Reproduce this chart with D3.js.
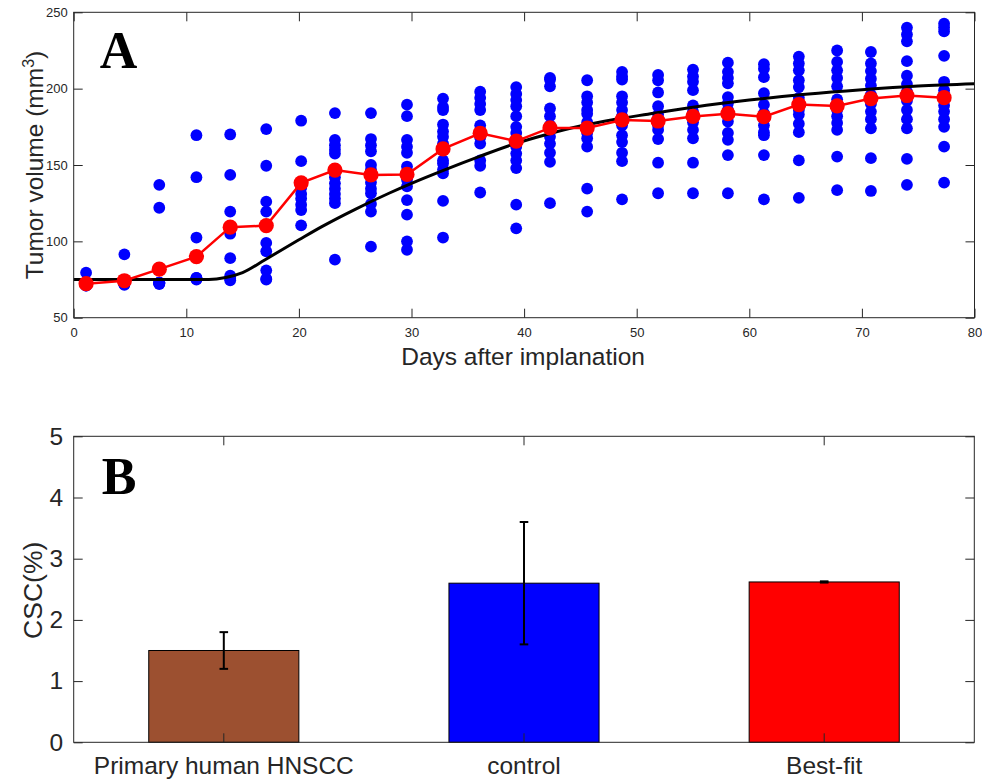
<!DOCTYPE html>
<html>
<head>
<meta charset="utf-8">
<script src="https://cdn.jsdelivr.net/npm/d3@7"></script>
<style>
  html, body { margin: 0; padding: 0; background: #fff; }
  svg { display: block; }
  text { font-family: "Liberation Sans", Arial, Helvetica, sans-serif; fill: #262626; }
  .panel-letter { font-family: "Liberation Serif", "Times New Roman", serif; font-weight: bold; fill: #000; }
</style>
</head>
<body>
<svg id="fig" width="982" height="780"></svg>
<script>
// ---- Panel A: tumour growth ----
const measureDays = [1.1, 4.5, 7.6, 10.9, 13.9, 17.1, 20.2, 23.2, 26.4, 29.6, 32.8, 36.1, 39.3,
                     42.3, 45.6, 48.7, 51.9, 55.0, 58.1, 61.3, 64.4, 67.8, 70.8, 74.0, 77.3];

// individual mice, one list per measurement day
const mouseVolumes = [
  [79.5, 73, 72.5, 72, 71.5, 71, 72.5, 71],
  [91.5, 73, 72.5, 72, 72, 71.5, 73, 72],
  [137, 122, 73, 73, 72.5, 72.5, 72, 73],
  [169.5, 142, 102.5, 76, 75.5, 75.5, 75, 76],
  [170, 143.5, 119.5, 105, 89, 77.5, 75.5, 74.5],
  [173.5, 149.5, 126, 119.5, 99, 93.5, 81, 75.5, 75],
  [179, 152.5, 135, 131, 128, 124, 120.5, 110.5],
  [184, 166.5, 163, 160, 157.5, 146, 142, 138, 134.5, 131, 128, 125, 88],
  [184, 167, 163, 159, 150, 147, 143.5, 138.5, 134.5, 131.5, 124.5, 119.5, 96.5],
  [189.5, 182, 166.5, 162, 158, 149, 145, 140.5, 136, 127, 117.5, 100, 94.5],
  [193.5, 188, 186, 176.5, 172, 168.5, 164, 153, 151, 147, 144.5, 126.5, 102.5],
  [198, 194, 190, 186, 176, 172, 168, 164, 153, 149.5, 132],
  [201, 196.5, 192.5, 188.5, 182, 175, 171, 162, 157.5, 153, 148, 124, 108.5],
  [207, 206, 201.5, 187, 182, 176, 168.5, 164, 158, 152, 125],
  [205.5, 195, 191, 186, 183.5, 178, 171, 167.5, 162, 134.5, 119.5],
  [211, 208, 206, 195, 191, 186, 182, 176, 169.5, 165, 158, 152.5, 127.5],
  [209, 205.5, 197.5, 188.5, 183, 176, 173, 167, 151.5, 131.5],
  [212.5, 208, 204.5, 199, 189, 185, 178, 173, 167.5, 151.5, 131.5],
  [217, 211, 207, 203.5, 194.5, 190.5, 186, 178.5, 171, 166.5, 156.5, 131.5],
  [216, 213, 207.5, 197, 189.5, 184, 180, 176, 171.5, 169.5, 156.5, 127.5],
  [221, 216.5, 212, 205.5, 201, 194, 190, 186, 183, 177, 171.5, 153, 128.5],
  [225, 217.5, 212, 207, 201.5, 193, 186, 182, 177.5, 173, 155.5, 133.5],
  [224, 216.5, 211.5, 206.5, 202, 196, 190, 185, 180, 174, 154.5, 133],
  [240, 235.5, 231, 218, 208.5, 203, 198, 192, 186, 180, 174, 154, 137],
  [242.5, 240, 237.5, 221.5, 204.5, 199, 196, 189, 185, 180, 175, 162, 138.5]
];

// mean volume per measurement day
const meanVolumes = [72.3, 74.2, 81.8, 90, 109.3, 110.3, 138.3, 146.7, 143.5, 143.8, 160.5, 170.8,
                     165.6, 174.3, 174.2, 179.5, 178.8, 181.8, 183.6, 181.6, 189.6, 188.7, 193.5, 195.5, 194.1];

// model fit
const fitDays    = [0, 12, 13.5, 15, 17, 20, 22, 25, 28, 30, 33, 36, 39, 42, 45, 48, 51, 55, 60, 65, 70, 75, 80];
const fitVolumes = [75, 75, 76.3, 79.5, 88, 101, 109.5, 121, 131.5, 138, 147, 155.5, 163.5, 170, 175.5,
                    179.8, 183.3, 187.8, 192.5, 196.3, 199.3, 201.7, 203.2];

const xTicksA = [0, 10, 20, 30, 40, 50, 60, 70, 80];
const yTicksA = [50, 100, 150, 200, 250];

// ---- Panel B: CSC fraction ----
const groups    = ["Primary human HNSCC", "control", "Best-fit"];
const cscValues = [1.5, 2.6, 2.62];
const cscLow    = [1.2, 1.6, 2.61];
const cscHigh   = [1.8, 3.6, 2.63];
const barColors = ["#9C5030", "#0000FF", "#FF0000"];
const yTicksB   = [0, 1, 2, 3, 4, 5];

const svg = d3.select("#fig");
const AX = "#262626";
const TICK = 9;

function boxAxes(g, x, y, w, h, opts) {
  // inward ticks on all four sides, MATLAB-style box
  const left = d3.axisLeft(y).tickValues(opts.yTicks).tickSizeInner(-TICK).tickSizeOuter(0)
    .tickPadding(opts.yPad).tickFormat(opts.yFmt || d3.format("d"));
  const right = d3.axisRight(y).tickValues(opts.yTicks).tickSizeInner(-TICK).tickSizeOuter(0).tickFormat("");
  const bottom = d3.axisBottom(x).tickSizeInner(-TICK).tickSizeOuter(0).tickPadding(opts.xPad);
  const top = d3.axisTop(x).tickSizeInner(-TICK).tickSizeOuter(0).tickFormat("");
  if (opts.xTicks) { bottom.tickValues(opts.xTicks); top.tickValues(opts.xTicks); }

  const gl = g.append("g").call(left);
  const gr = g.append("g").attr("transform", `translate(${w},0)`).call(right);
  const gb = g.append("g").attr("transform", `translate(0,${h})`).call(bottom);
  const gt = g.append("g").call(top);
  [gl, gr, gb, gt].forEach(a => {
    a.select(".domain").remove();
    a.selectAll("line").attr("stroke", AX).attr("stroke-width", 1);
    a.selectAll("text").attr("fill", AX).style("font-family", "'Liberation Sans', Arial, sans-serif");
  });
  gl.selectAll("text").style("font-size", opts.fs + "px");
  gb.selectAll("text").style("font-size", opts.fs + "px");
  g.append("rect").attr("x", 0).attr("y", 0).attr("width", w).attr("height", h)
    .attr("fill", "none").attr("stroke", AX).attr("stroke-width", 1);
}

// ===== Panel A =====
{
  const m = { left: 73.7, top: 12.3, w: 900.8, h: 305.4 };
  const g = svg.append("g").attr("transform", `translate(${m.left},${m.top})`);
  const x = d3.scaleLinear().domain([0, 80]).range([0, m.w]);
  const y = d3.scaleLinear().domain([50, 250]).range([m.h, 0]);

  g.append("rect").attr("width", m.w).attr("height", m.h).attr("fill", "#fff");

  // individual measurements
  const pts = [];
  measureDays.forEach((d, i) => mouseVolumes[i].forEach(v => pts.push([d, v])));
  g.append("g").selectAll("circle").data(pts).join("circle")
    .attr("cx", d => x(d[0])).attr("cy", d => y(d[1])).attr("r", 5.9)
    .attr("fill", "#0000FF");

  // model curve
  const fit = fitDays.map((d, i) => [d, fitVolumes[i]]);
  g.append("path").datum(fit)
    .attr("d", d3.line().x(d => x(d[0])).y(d => y(d[1])).curve(d3.curveMonotoneX))
    .attr("fill", "none").attr("stroke", "#000").attr("stroke-width", 3);

  // mean trajectory
  const mean = measureDays.map((d, i) => [d, meanVolumes[i]]);
  g.append("path").datum(mean)
    .attr("d", d3.line().x(d => x(d[0])).y(d => y(d[1])))
    .attr("fill", "none").attr("stroke", "#FF0000").attr("stroke-width", 2.5);
  g.append("g").selectAll("circle").data(mean).join("circle")
    .attr("cx", d => x(d[0])).attr("cy", d => y(d[1])).attr("r", 7.6)
    .attr("fill", "#FF0000");

  boxAxes(g, x, y, m.w, m.h, { yTicks: yTicksA, xTicks: xTicksA, yPad: 6, xPad: 10, fs: 13 });

  g.append("text").attr("x", m.w / 2 - 1).attr("y", 353).attr("text-anchor", "middle")
    .style("font-size", "24.5px").text("Days after implanation");

  const yl = g.append("text").attr("transform", `translate(-31,${m.h / 2}) rotate(-90)`)
    .attr("text-anchor", "middle").style("font-size", "24.5px");
  yl.append("tspan").text("Tumor volume (mm");
  yl.append("tspan").attr("dy", "-0.55em").style("font-size", "16px").text("3");
  yl.append("tspan").attr("dy", "0.36em").text(")");

  g.append("text").attr("class", "panel-letter").attr("x", 26).attr("y", 56)
    .style("font-size", "52px").text("A");
}

// ===== Panel B =====
{
  const m = { left: 73.7, top: 436.3, w: 900.6, h: 306 };
  const g = svg.append("g").attr("transform", `translate(${m.left},${m.top})`);
  const x = d3.scaleBand().domain(groups).range([0, m.w]).paddingInner(0.5).paddingOuter(0.25);
  const y = d3.scaleLinear().domain([0, 5]).range([m.h, 0]);

  g.append("g").selectAll("rect").data(groups).join("rect")
    .attr("x", d => x(d)).attr("width", x.bandwidth())
    .attr("y", (d, i) => y(cscValues[i])).attr("height", (d, i) => m.h - y(cscValues[i]))
    .attr("fill", (d, i) => barColors[i]).attr("stroke", "#000").attr("stroke-width", 1);

  // error bars
  const eb = g.append("g").attr("stroke", "#000").attr("stroke-width", 2);
  groups.forEach((d, i) => {
    const cx = x(d) + x.bandwidth() / 2;
    eb.append("line").attr("x1", cx).attr("x2", cx).attr("y1", y(cscLow[i])).attr("y2", y(cscHigh[i]));
    eb.append("line").attr("x1", cx - 4.3).attr("x2", cx + 4.3).attr("y1", y(cscLow[i])).attr("y2", y(cscLow[i]));
    eb.append("line").attr("x1", cx - 4.3).attr("x2", cx + 4.3).attr("y1", y(cscHigh[i])).attr("y2", y(cscHigh[i]));
  });

  boxAxes(g, x, y, m.w, m.h, { yTicks: yTicksB, yPad: 10.5, xPad: 14, fs: 24.5 });

  g.append("text").attr("transform", `translate(-32,${m.h / 2 + 1}) rotate(-90)`)
    .attr("text-anchor", "middle").style("font-size", "26.5px").text("CSC(%)");

  g.append("text").attr("class", "panel-letter").attr("x", 28).attr("y", 58)
    .style("font-size", "52px").text("B");
}
</script>
</body>
</html>
